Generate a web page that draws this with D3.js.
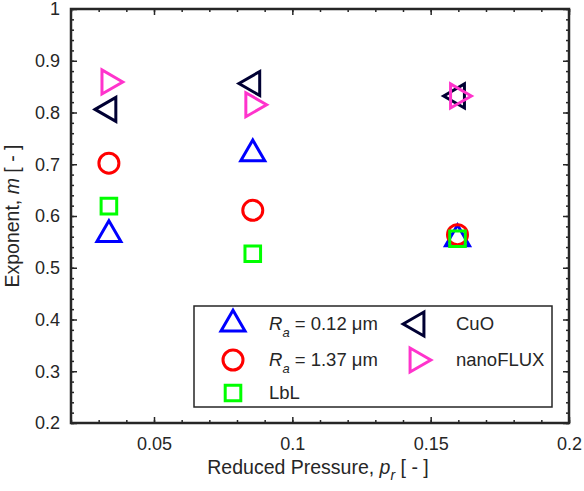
<!DOCTYPE html>
<html>
<head>
<meta charset="utf-8">
<script src="https://cdn.jsdelivr.net/npm/d3@7"></script>
<style>
  body { margin: 0; background: #fff; }
  svg { font-family: "Liberation Sans", Arial, sans-serif; }
  .axis path, .axis line { stroke: #262626; }
  .axis text { fill: #262626; font-size: 18px; }
</style>
</head>
<body>
<svg id="chart" width="584" height="491"></svg>
<script>
const pressure = [0.0337, 0.0857, 0.1597];

const ra012 = [0.564, 0.72, 0.556];
const ra137 = [0.702, 0.611, 0.564];
const lbl = [0.619, 0.527, 0.556];
const cuo = [0.806, 0.856, 0.832];
const nanoflux = [0.859, 0.815, 0.832];

const xTicks = [0.05, 0.1, 0.15, 0.2];
const xTickLabels = ['0.05', '0.1', '0.15', '0.2'];
const yTicks = [0.2, 0.3, 0.4, 0.5, 0.6, 0.7, 0.8, 0.9, 1];
const yTickLabels = ['0.2', '0.3', '0.4', '0.5', '0.6', '0.7', '0.8', '0.9', '1'];

const margin = {top: 9, right: 15, bottom: 68, left: 71};
const width = 584 - margin.left - margin.right;
const height = 491 - margin.top - margin.bottom;

const svg = d3.select('#chart');
const g = svg.append('g')
    .attr('transform', `translate(${margin.left},${margin.top})`);

const x = d3.scaleLinear().domain([0.02, 0.2]).range([0, width]);
const y = d3.scaleLinear().domain([0.2, 1]).range([height, 0]);

// marker shapes (centred like MATLAB markers)
const side = 24;
const hTri = side * Math.sqrt(3) / 2;
const shapes = {
    up: `M0,${-2 * hTri / 3}L${side / 2},${hTri / 3}L${-side / 2},${hTri / 3}Z`,
    left: `M${-2 * hTri / 3},0L${hTri / 3},${-side / 2}L${hTri / 3},${side / 2}Z`,
    right: `M${2 * hTri / 3},0L${-hTri / 3},${-side / 2}L${-hTri / 3},${side / 2}Z`,
    circle: 'M10,0A10,10 0 1,1 -10,0A10,10 0 1,1 10,0Z',
    square: 'M-7.8,-7.8H7.8V7.8H-7.8Z'
};

const series = [
    {values: ra012, shape: 'up', color: '#0000ff'},
    {values: ra137, shape: 'circle', color: '#ff0000'},
    {values: lbl, shape: 'square', color: '#00ff00'},
    {values: cuo, shape: 'left', color: '#000033'},
    {values: nanoflux, shape: 'right', color: '#ff33cc'}
];

// AXES

const minorX = d3.range(0.02, 0.2001, 0.01);
const minorY = d3.range(0.2, 1.0001, 0.02);

function drawAxis (axis, cls, transform) {
    g.append('g')
        .attr('class', 'axis ' + cls)
        .attr('transform', transform)
        .call(axis)
        .call(s => s.select('.domain').remove())
        .call(s => s.selectAll('line').attr('stroke-width', 1.5));
}

drawAxis(d3.axisBottom(x).tickValues(minorX).tickSize(-3).tickFormat(''), 'minor', `translate(0,${height})`);
drawAxis(d3.axisTop(x).tickValues(minorX).tickSize(-3).tickFormat(''), 'minor', 'translate(0,0)');
drawAxis(d3.axisLeft(y).tickValues(minorY).tickSize(-3).tickFormat(''), 'minor', 'translate(0,0)');
drawAxis(d3.axisRight(y).tickValues(minorY).tickSize(-3).tickFormat(''), 'minor', `translate(${width},0)`);

drawAxis(d3.axisBottom(x).tickValues(xTicks).tickSize(-6).tickPadding(14)
    .tickFormat((d, i) => xTickLabels[i]), 'xAxis', `translate(0,${height})`);
drawAxis(d3.axisTop(x).tickValues(xTicks).tickSize(-6).tickFormat(''), 'xTop', 'translate(0,0)');
drawAxis(d3.axisLeft(y).tickValues(yTicks).tickSize(-6).tickPadding(11)
    .tickFormat((d, i) => yTickLabels[i]), 'yAxis', 'translate(0,0)');
drawAxis(d3.axisRight(y).tickValues(yTicks).tickSize(-6).tickFormat(''), 'yRight', `translate(${width},0)`);

g.append('rect')
    .attr('width', width)
    .attr('height', height)
    .attr('fill', 'none')
    .attr('stroke', '#262626')
    .attr('stroke-width', 2.5);

// DATA POINTS

series.forEach(s => {
    g.selectAll(null)
        .data(s.values)
        .enter()
        .append('path')
        .attr('d', shapes[s.shape])
        .attr('transform', (d, i) => `translate(${x(pressure[i])},${y(d)})`)
        .attr('fill', 'none')
        .attr('stroke', s.color)
        .attr('stroke-width', 3);
});

// LEGEND

const legend = svg.append('g').attr('transform', 'translate(194,306)');
legend.append('rect')
    .attr('width', 358)
    .attr('height', 101)
    .attr('fill', '#fff')
    .attr('stroke', '#262626')
    .attr('stroke-width', 1.5);

const legendItems = [
    {s: series[0], x: 39, y: 18, label: ['R', 'a', ' = 0.12 μm']},
    {s: series[1], x: 39, y: 54, label: ['R', 'a', ' = 1.37 μm']},
    {s: series[2], x: 39, y: 87, label: ['LbL']},
    {s: series[3], x: 223, y: 18, label: ['CuO']},
    {s: series[4], x: 223, y: 54, label: ['nanoFLUX']}
];

legendItems.forEach(item => {
    legend.append('path')
        .attr('d', shapes[item.s.shape])
        .attr('transform', `translate(${item.x},${item.y})`)
        .attr('fill', 'none')
        .attr('stroke', item.s.color)
        .attr('stroke-width', 3);
    const t = legend.append('text')
        .attr('x', item.x + (item.x < 100 ? 36 : 39))
        .attr('y', item.y + 6)
        .attr('font-size', 18.5)
        .attr('fill', '#262626');
    if (item.label.length === 3) {
        t.append('tspan').attr('font-style', 'italic').text(item.label[0]);
        t.append('tspan').attr('font-style', 'italic').attr('font-size', 13)
            .attr('dy', 7).text(item.label[1]);
        t.append('tspan').attr('dy', -7).text(item.label[2]);
    } else {
        t.text(item.label[0]);
    }
});

// AXIS LABELS

const xLabel = svg.append('text')
    .attr('x', margin.left + width / 2 - 2)
    .attr('y', 474)
    .attr('text-anchor', 'middle')
    .attr('font-size', 19.5)
    .attr('fill', '#262626');
xLabel.append('tspan').text('Reduced Pressure, ');
xLabel.append('tspan').attr('font-style', 'italic').text('p');
xLabel.append('tspan').attr('font-style', 'italic').attr('font-size', 14).attr('dy', 6).text('r');
xLabel.append('tspan').attr('dy', -6).text(' [ - ]');

const yLabel = svg.append('text')
    .attr('transform', `translate(19,${margin.top + height / 2}) rotate(-90)`)
    .attr('text-anchor', 'middle')
    .attr('font-size', 19.5)
    .attr('fill', '#262626');
yLabel.append('tspan').text('Exponent, ');
yLabel.append('tspan').attr('font-style', 'italic').text('m');
yLabel.append('tspan').text(' [ - ]');
</script>
</body>
</html>
